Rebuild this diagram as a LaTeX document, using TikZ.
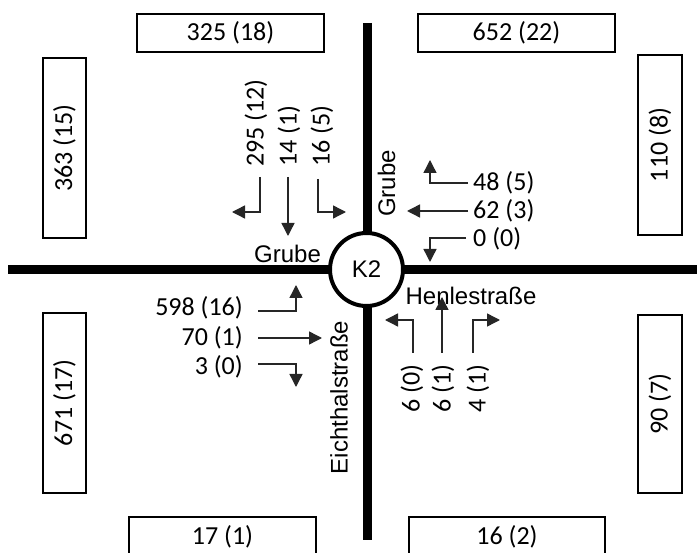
\documentclass[tikz,border=0pt]{standalone}
\usepackage{fontspec}
\setmainfont{Carlito}
\newfontfamily\arialfont{Liberation Sans}
\usetikzlibrary{arrows.meta}

\begin{document}
\begin{tikzpicture}[x=1pt, y=-1pt,
      every node/.style={font=\fontsize{26}{31}\selectfont, inner sep=0pt},
      cnt/.style={draw, line width=2pt, fill=white},
      rd/.style={line width=9pt},
      mv/.style={draw=black!85, line width=1.4pt, -{Triangle[length=13pt,width=13pt]}},
      st/.style={font=\arialfont\fontsize{24}{28}\selectfont}]
      \useasboundingbox (0,0) rectangle (697,553);
      % Roads and roundabout
      \coordinate (nEnd) at (367,23); \coordinate (sEnd) at (367,540);
      \coordinate (wEnd) at (8,270); \coordinate (eEnd) at (697,270);
      \draw[rd] (nEnd) -- (sEnd); \draw[rd] (wEnd) -- (eEnd);
      \node[st, circle, draw, line width=4pt, fill=white, minimum size=73pt] (K2) at (366.5,269.5) {K2};
      % Street names
      \node[st] (grubeW) at (287.5,253.5) {Grube};
      \node[st, rotate=90] (grubeN) at (386.5,183.5) {Grube};
      \node[st] (henle) at (471,295.5) {Henlestraße};
      \node[st, rotate=90] (eicht) at (339,397.5) {Eichthalstraße};
      % Cross-section counts
      \node[cnt, minimum width=187pt, minimum height=38pt] (cNW) at (230.5,33) {325 (18)};
      \node[cnt, minimum width=197pt, minimum height=38pt] (cNE) at (516.5,33) {652 (22)};
      \node[cnt, rotate=90, minimum width=180pt, minimum height=43pt] (cWN) at (64.5,148) {363 (15)};
      \node[cnt, rotate=90, minimum width=180pt, minimum height=44pt] (cEN) at (660,145) {110 (8)};
      \node[cnt, rotate=90, minimum width=180pt, minimum height=43pt] (cWS) at (64.5,403) {671 (17)};
      \node[cnt, rotate=90, minimum width=178pt, minimum height=44pt] (cES) at (660,404) {90 (7)};
      \node[cnt, minimum width=187pt, minimum height=39pt] (cSW) at (222.5,536.5) {17 (1)};
      \node[cnt, minimum width=196pt, minimum height=39pt] (cSE) at (507,536.5) {16 (2)};
      % North arm
      \node[rotate=90, anchor=west] (nL) at (256,167) {295 (12)};
      \node[rotate=90, anchor=west] (nS) at (289,167) {14 (1)};
      \node[rotate=90, anchor=west] (nR) at (322,167) {16 (5)};
      \draw[mv] (260,177) |- (232,212); \draw[mv] (288,177) -- (288,236); \draw[mv] (318,179) |- (346,212);
      % East arm
      \node[anchor=west] (eR) at (473,183) {48 (5)};
      \node[anchor=west] (eS) at (473,211) {62 (3)};
      \node[anchor=west] (eL) at (473,239) {0 (0)};
      \draw[mv] (468,183) -| (430,160); \draw[mv] (468,211) -- (407,211); \draw[mv] (466,238) -| (430,262);
      % West arm
      \node[anchor=east] (wL) at (243,307.5) {598 (16)};
      \node[anchor=east] (wS) at (243,338) {70 (1)};
      \node[anchor=east] (wR) at (243,367) {3 (0)};
      \draw[mv] (258,311) -| (296,285); \draw[mv] (258,338) -- (322,338); \draw[mv] (258,364) -| (296,387);
      % South arm
      \node[rotate=90, anchor=east] (sL) at (412,364) {6 (0)};
      \node[rotate=90, anchor=east] (sS) at (443,364) {6 (1)};
      \node[rotate=90, anchor=east] (sR) at (478,364) {4 (1)};
      \draw[mv] (413,353) |- (385,320); \draw[mv] (442,353) -- (442,297); \draw[mv] (473,353) |- (500,320);
    \end{tikzpicture}
\end{document}
